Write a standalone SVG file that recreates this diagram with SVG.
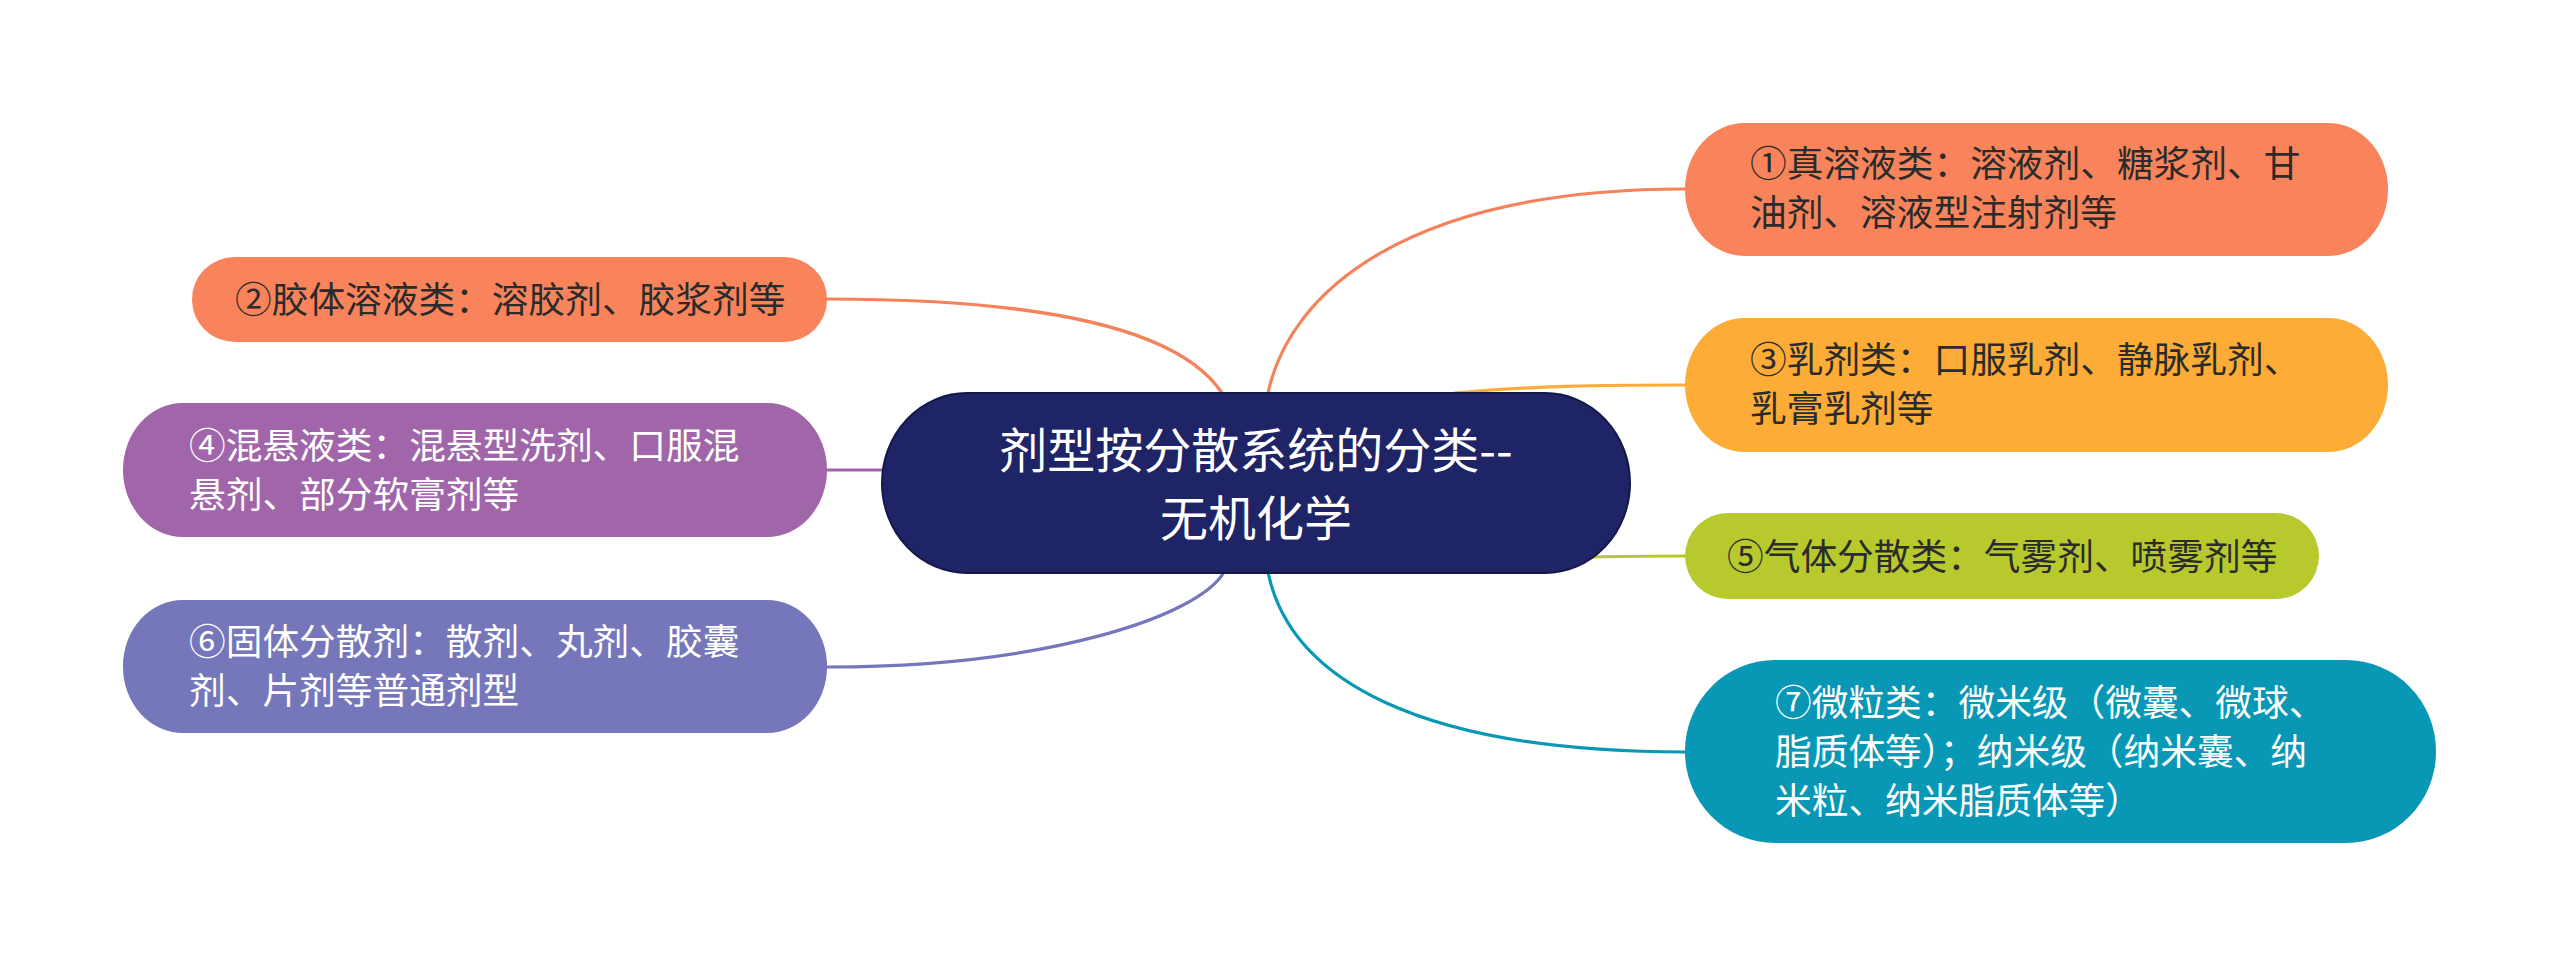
<svg xmlns="http://www.w3.org/2000/svg" width="2560" height="966" viewBox="0 0 2560 966">
<style>
.t{font-family:"Noto Sans CJK SC","Noto Sans",sans-serif;font-size:36.7px;}
.dk{fill:#2b2b2b;}
.wt{fill:#ffffff;}
.c{fill:none;stroke-width:3.2;stroke-linecap:round;}
</style>
<rect width="2560" height="966" fill="#ffffff"/>
<g id="connectors">
<path class="c" stroke="#f4825a" d="M1268,393 C1290,290 1410,189 1685,189"/>
<path class="c" stroke="#f4825a" d="M1222,393 C1180,330 1050,299 827,299"/>
<path class="c" stroke="#fcac37" d="M1454,393 C1530,386 1600,385 1685,385"/>
<path class="c" stroke="#b7c92d" d="M1592,557 C1630,556 1650,556 1685,556"/>
<path class="c" stroke="#0898b6" d="M1268,572 C1290,680 1420,752 1685,752"/>
<path class="c" stroke="#a066a9" d="M827,470 L882,470"/>
<path class="c" stroke="#7676bb" d="M1224,572 C1200,615 1050,667 827,667"/>
</g>
<g id="center">
<rect x="882" y="393" width="748" height="180" rx="85" ry="90" fill="#1f2466" stroke="#13174a" stroke-width="2"/>
<text class="wt" font-family="Noto Sans CJK SC, Noto Sans, sans-serif" font-size="48" text-anchor="middle"><tspan x="1256" y="468">剂型按分散系统的分类--</tspan><tspan x="1256" y="536">无机化学</tspan></text>
</g>
<g id="node1">
<rect x="1685" y="123" width="703" height="133" rx="60" ry="66" fill="#f9845b"/>
<text class="t dk"><tspan x="1750" y="177">①真溶液类：溶液剂、糖浆剂、甘</tspan><tspan x="1750" y="226">油剂、溶液型注射剂等</tspan></text>
</g>
<g id="node3">
<rect x="1685" y="318" width="703" height="134" rx="60" ry="67" fill="#fcac37"/>
<text class="t dk"><tspan x="1750" y="373">③乳剂类：口服乳剂、静脉乳剂、</tspan><tspan x="1750" y="422">乳膏乳剂等</tspan></text>
</g>
<g id="node5">
<rect x="1685" y="513" width="634" height="86" rx="43" ry="43" fill="#b7c92d"/>
<text class="t dk" x="1727" y="570">⑤气体分散类：气雾剂、喷雾剂等</text>
</g>
<g id="node7">
<rect x="1685" y="660" width="751" height="183" rx="90" ry="91" fill="#0898b6"/>
<text class="t wt"><tspan x="1775" y="716">⑦微粒类：微米级（微囊、微球、</tspan><tspan x="1775" y="765">脂质体等）；纳米级（纳米囊、纳</tspan><tspan x="1775" y="814">米粒、纳米脂质体等）</tspan></text>
</g>
<g id="node2">
<rect x="192" y="257" width="635" height="85" rx="43" ry="42" fill="#f9845b"/>
<text class="t dk" x="235" y="313">②胶体溶液类：溶胶剂、胶浆剂等</text>
</g>
<g id="node4">
<rect x="123" y="403" width="704" height="134" rx="60" ry="67" fill="#a066a9"/>
<text class="t wt"><tspan x="189" y="459">④混悬液类：混悬型洗剂、口服混</tspan><tspan x="189" y="508">悬剂、部分软膏剂等</tspan></text>
</g>
<g id="node6">
<rect x="123" y="600" width="704" height="133" rx="60" ry="66" fill="#7676bb"/>
<text class="t wt"><tspan x="189" y="655">⑥固体分散剂：散剂、丸剂、胶囊</tspan><tspan x="189" y="704">剂、片剂等普通剂型</tspan></text>
</g>
</svg>
